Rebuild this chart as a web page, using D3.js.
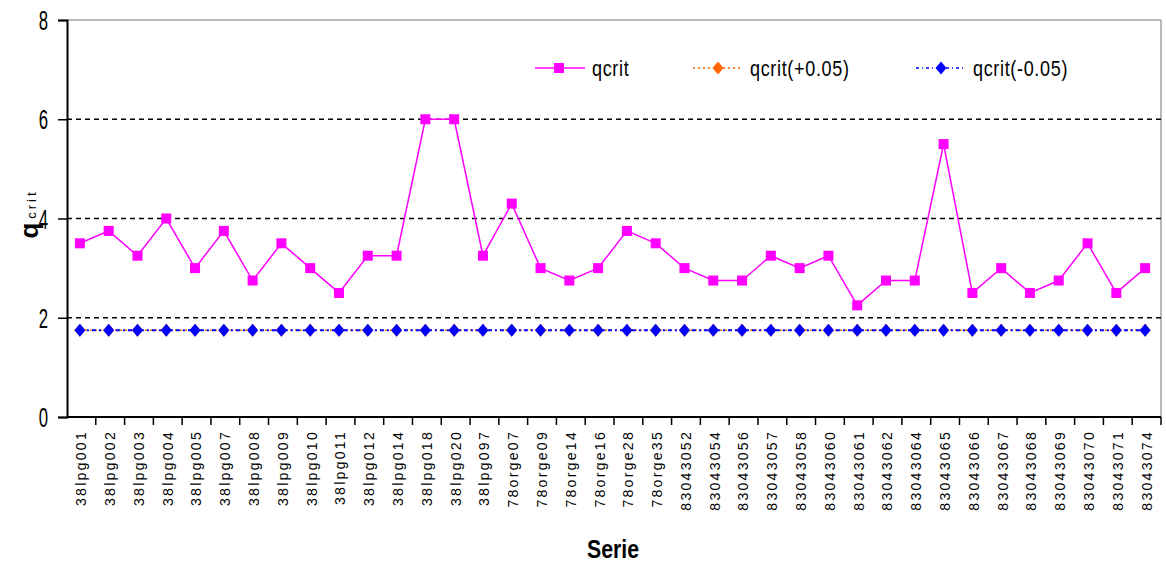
<!DOCTYPE html>
<html><head><meta charset="utf-8">
<script src="https://cdn.jsdelivr.net/npm/d3@7"></script>
<style>
html,body{margin:0;padding:0;background:#fff;}
svg{display:block;}
text{font-family:"Liberation Sans Narrow","Arial Narrow","Liberation Sans",sans-serif;}
</style></head>
<body>
<svg id="c" width="1166" height="562"></svg>
<script>
const categories = ["38lpg001","38lpg002","38lpg003","38lpg004","38lpg005","38lpg007","38lpg008","38lpg009","38lpg010","38lpg011","38lpg012","38lpg014","38lpg018","38lpg020","38lpg097","78orge07","78orge09","78orge14","78orge16","78orge28","78orge35","83043052","83043054","83043056","83043057","83043058","83043060","83043061","83043062","83043064","83043065","83043066","83043067","83043068","83043069","83043070","83043071","83043074"];
const qcrit = [3.5,3.75,3.25,4.0,3.0,3.75,2.75,3.5,3.0,2.5,3.25,3.25,6.0,6.0,3.25,4.3,3.0,2.75,3.0,3.75,3.5,3.0,2.75,2.75,3.25,3.0,3.25,2.25,2.75,2.75,5.5,2.5,3.0,2.5,2.75,3.5,2.5,3.0];
const qcritPlus = categories.map(() => 1.75);
const qcritMinus = categories.map(() => 1.75);
const yTicks = [0,2,4,6,8];
const gridValues = [2,4,6];
const seriesNames = ["qcrit","qcrit(+0.05)","qcrit(-0.05)"];

const svg = d3.select("#c");
const L = 67, R = 1161, T = 20, B = 417;
const x = d3.scaleBand().domain(categories).range([L, R]).padding(0);
const y = d3.scaleLinear().domain([0, 8]).range([B, T]);

svg.append("line").attr("x1", L).attr("x2", R).attr("y1", y(8)).attr("y2", y(8)).attr("stroke", "#a0a0a0").attr("stroke-width", 1.5);
svg.append("line").attr("x1", R).attr("x2", R).attr("y1", T).attr("y2", B).attr("stroke", "#a0a0a0").attr("stroke-width", 1.5);

svg.append("g").selectAll("line").data(gridValues).join("line")
  .attr("x1", L).attr("x2", R).attr("y1", d => y(d)).attr("y2", d => y(d))
  .attr("stroke", "#000").attr("stroke-width", 1.5).attr("stroke-dasharray", "5,4");

// y axis
const yAxis = d3.axisLeft(y).tickValues(yTicks).tickSize(9).tickFormat(d3.format("d"));
const gy = svg.append("g").attr("transform", `translate(${L},0)`).call(yAxis);
gy.select(".domain").attr("stroke", "#000").attr("stroke-width", 2);
gy.selectAll(".tick line").attr("stroke", "#000").attr("stroke-width", 1.5);
gy.selectAll(".tick text").attr("font-size", 27).attr("fill", "#000")
  .attr("x", 0).attr("dy", "0.36em").attr("text-anchor", "end")
  .attr("transform", "translate(-19,0) scale(0.62,1)");

// x axis
const xAxis = d3.axisBottom(x).tickSize(0).tickFormat(d => d);
const gx = svg.append("g").attr("transform", `translate(0,${B})`).call(xAxis);
gx.select(".domain").attr("stroke", "#000").attr("stroke-width", 2).attr("d", `M${L},0H${R}`);
gx.selectAll(".tick text")
  .attr("font-size", 14).attr("fill", "#000").attr("letter-spacing", "2.3px")
  .attr("transform", "rotate(-90)").attr("text-anchor", "end")
  .attr("x", -13).attr("y", 0).attr("dy", "0.35em");
svg.append("g").selectAll("line").data(categories).join("line")
  .attr("x1", d => x(d) + x.bandwidth()).attr("x2", d => x(d) + x.bandwidth())
  .attr("y1", B).attr("y2", B + 8).attr("stroke", "#000").attr("stroke-width", 1.5);

const cx = d => x(d) + x.bandwidth() / 2 - 1.5;
const diamondPath = "M0,-6.5L5.5,0L0,6.5L-5.5,0Z";

const lineGen = d3.line().x((d, i) => cx(categories[i])).y(d => y(d));
// orange (hidden under blue)
svg.append("path").datum(qcritPlus).attr("d", lineGen).attr("fill", "none")
  .attr("stroke", "#ff6600").attr("stroke-width", 1.5).attr("stroke-dasharray", "2,3");
svg.append("g").selectAll("path").data(qcritPlus).join("path")
  .attr("d", diamondPath).attr("transform", (d, i) => `translate(${cx(categories[i])},${y(d)})`).attr("fill", "#ff6600");

// blue
svg.append("path").datum(qcritMinus).attr("d", lineGen).attr("fill", "none")
  .attr("stroke", "#0000ff").attr("stroke-width", 2).attr("stroke-dasharray", "4,3,2,3");
svg.append("g").selectAll("path").data(qcritMinus).join("path")
  .attr("d", diamondPath).attr("transform", (d, i) => `translate(${cx(categories[i])},${y(d)})`).attr("fill", "#0000ff");

// qcrit
svg.append("path").datum(qcrit).attr("d", lineGen).attr("fill", "none")
  .attr("stroke", "#ff00ff").attr("stroke-width", 1.5);
svg.append("g").selectAll("rect").data(qcrit).join("rect")
  .attr("x", (d, i) => cx(categories[i]) - 5).attr("y", d => y(d) - 5)
  .attr("width", 10).attr("height", 10).attr("fill", "#ff00ff");

// axis titles
const yt = svg.append("text").attr("transform", "translate(38,214) rotate(-90)").attr("text-anchor", "middle")
  .attr("fill", "#000");
yt.append("tspan").text("q").attr("font-size", 26).attr("font-weight", "bold");
yt.append("tspan").text("crit").attr("font-size", 13).attr("letter-spacing", "3px").attr("dx", 4).attr("dy", -2);

svg.append("text").attr("text-anchor", "middle")
  .attr("transform", "translate(613,558) scale(0.85,1)")
  .attr("font-size", 25).attr("font-weight", "bold").attr("fill", "#000").text("Serie");

// legend
const leg = svg.append("g");
const legItems = [
  {name: seriesNames[0], x0: 535, color: "#ff00ff", dash: null, mark: "square"},
  {name: seriesNames[1], x0: 693, color: "#ff6600", dash: "2,3", mark: "diamond"},
  {name: seriesNames[2], x0: 916, color: "#0000ff", dash: "3,3,1,3", mark: "diamond"}
];
const ly = 68;
legItems.forEach(it => {
  leg.append("line").attr("x1", it.x0).attr("x2", it.x0 + 50).attr("y1", ly).attr("y2", ly)
    .attr("stroke", it.color).attr("stroke-width", 1.5).attr("stroke-dasharray", it.dash);
  if (it.mark === "square") {
    leg.append("rect").attr("x", it.x0 + 24 - 5).attr("y", ly - 5).attr("width", 10).attr("height", 10).attr("fill", it.color);
  } else {
    leg.append("path").attr("d", diamondPath).attr("transform", `translate(${it.x0 + 25},${ly})`).attr("fill", it.color);
  }
  leg.append("text").attr("x", 0).attr("y", 0).attr("dy", "0.35em")
    .attr("transform", `translate(${it.x0 + 57},${ly}) scale(0.82,1)`)
    .attr("font-size", 22).attr("letter-spacing", "0.8px").attr("fill", "#000").text(it.name);
});
</script>
</body></html>
